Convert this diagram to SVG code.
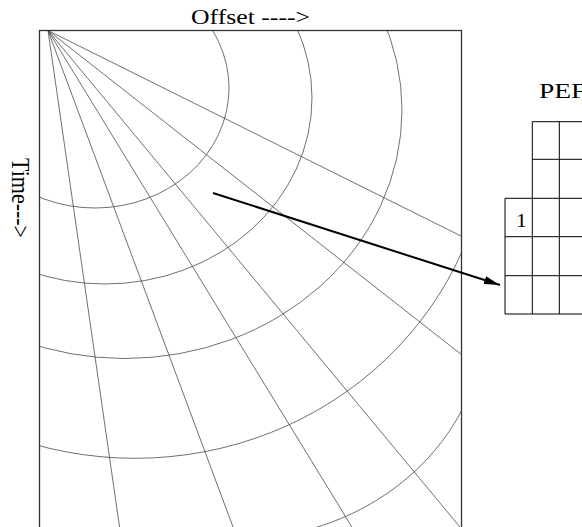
<svg xmlns="http://www.w3.org/2000/svg" width="582" height="527" viewBox="0 0 582 527">
<style>
.lbl{font-family:"Liberation Serif","Times New Roman",serif;fill:#000;}
.thin{fill:none;stroke:#4a4a4a;stroke-width:0.8;}
.frame{fill:none;stroke:#333;stroke-width:1.3;}
.grid{fill:none;stroke:#000;stroke-width:1;}
.conn{fill:none;stroke:#000;stroke-width:2;}
</style>
<defs>
<clipPath id="panelClip"><rect x="39.5" y="30.5" width="422" height="510"/></clipPath>
<marker id="arrowHead" viewBox="0 0 16 8" refX="16" refY="4" markerWidth="16" markerHeight="8" markerUnits="userSpaceOnUse" orient="auto">
<path d="M0,0 L16,4 L0,8 Z" fill="#000"/>
</marker>
</defs>
<rect width="582" height="527" fill="#fff"/>

<g id="offset-label"><text class="lbl" font-size="22" transform="translate(191,24) scale(1.17,1)">Offset ----&gt;</text></g>
<g id="time-label"><text class="lbl" font-size="22" transform="translate(11.5,158) scale(1.17,1) rotate(90)">Time---&gt;</text></g>

<g id="section-panel">
<g clip-path="url(#panelClip)">
<g id="rays">
<line class="thin" x1="48" y1="30.5" x2="462" y2="236.5"/>
<line class="thin" x1="48" y1="30.5" x2="462" y2="355"/>
<line class="thin" x1="48" y1="30.5" x2="462" y2="529.5"/>
<line class="thin" x1="48" y1="30.5" x2="356.8" y2="535"/>
<line class="thin" x1="48" y1="30.5" x2="236" y2="535"/>
<line class="thin" x1="48" y1="30.5" x2="120.7" y2="535"/>
</g>
<g id="wavefronts">
<ellipse class="thin" cx="95" cy="88" rx="134" ry="120"/>
<ellipse class="thin" cx="105" cy="98" rx="207" ry="186"/>
<ellipse class="thin" cx="125" cy="110" rx="277" ry="248.5"/>
<ellipse class="thin" cx="135" cy="120" rx="355" ry="338.3"/>
<path class="thin" d="M462,410 A249,226.4 0 0 1 303.2,531"/>
</g>
</g>
<rect class="frame" x="39.5" y="30.5" width="422" height="510"/>
</g>

<g id="pef-grid">
<text class="lbl" font-size="22" transform="translate(539,98.3) scale(1.25,1)">PEF</text>
<path class="grid" d="M532.3,121.7 H590 M532.3,159.3 H590 M505,198.3 H590 M505,236.7 H590 M505,275.7 H590 M505,314 H590 M505,198.3 V314 M532.3,121.7 V314 M559.3,121.7 V314"/>
<text class="lbl" font-size="18" text-anchor="middle" transform="translate(521.5,227) scale(1.2,1)">1</text>
</g>

<g id="connectors">
<line class="conn" x1="213" y1="193" x2="500" y2="285" marker-end="url(#arrowHead)"/>
</g>
</svg>
